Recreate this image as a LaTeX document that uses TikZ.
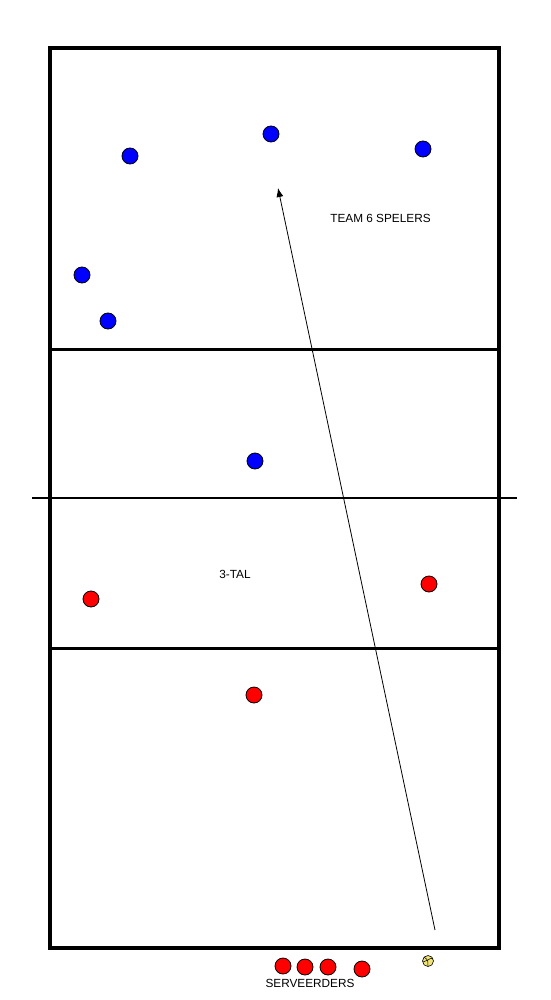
\documentclass[tikz,border=0pt]{standalone}
\usepackage{fontspec}
\setmainfont{Liberation Sans}
\usetikzlibrary{arrows.meta}
\begin{document}
\begin{tikzpicture}[x=1pt,y=-1pt,
  blue player/.style={circle,draw=black,line width=0.8pt,fill={rgb,255:red,0;green,0;blue,255},minimum size=16pt,inner sep=0pt},
  red player/.style={circle,draw=black,line width=0.8pt,fill={rgb,255:red,255;green,0;blue,0},minimum size=16pt,inner sep=0pt},
  ballstyle/.style={circle,draw=black,line width=0.6pt,fill={rgb,255:red,240;green,228;blue,120},minimum size=11pt,inner sep=0pt},
  lbl/.style={font=\fontsize{11.8}{13}\selectfont,inner sep=0pt}]
\useasboundingbox (0,0) rectangle (550,1000);
% court
\draw[line width=4pt] (50,48) rectangle (499,948);
\draw[line width=3pt] (50,349) -- (499,349);
\draw[line width=3pt] (50,648) -- (499,648);
\draw[line width=2pt] (32,498) -- (517,498);
% blue players
\node[blue player] (b1) at (130,156) {};
\node[blue player] (b2) at (271,134) {};
\node[blue player] (b3) at (423,149) {};
\node[blue player] (b4) at (82,275) {};
\node[blue player] (b5) at (108,321) {};
\node[blue player] (b6) at (255,461) {};
% red players
\node[red player] (r1) at (91,599) {};
\node[red player] (r2) at (429,584) {};
\node[red player] (r3) at (254,695) {};
\node[red player] (s1) at (283,966) {};
\node[red player] (s2) at (305,967) {};
\node[red player] (s3) at (328,967) {};
\node[red player] (s4) at (362,969) {};
% ball
\node[ballstyle] (ball) at (428,961) {};
\draw[line width=0.5pt] (424,957) .. controls (428,960) .. (428,966);
\draw[line width=0.5pt] (428,960) .. controls (431,958) .. (433,959);
\draw[line width=0.5pt] (423,962) .. controls (426,961) .. (428,960);
% arrow
\coordinate (from) at (435,930);
\coordinate (to) at (278,188);
\draw[-{Latex[length=9pt,width=7pt]},line width=0.8pt] (from) -- (to);
% labels
\node[lbl] (t1) at (380.5,218) {TEAM 6 SPELERS};
\node[lbl] (t2) at (235,574) {3-TAL};
\node[lbl] (t3) at (310,983) {SERVEERDERS};
\end{tikzpicture}
\end{document}
